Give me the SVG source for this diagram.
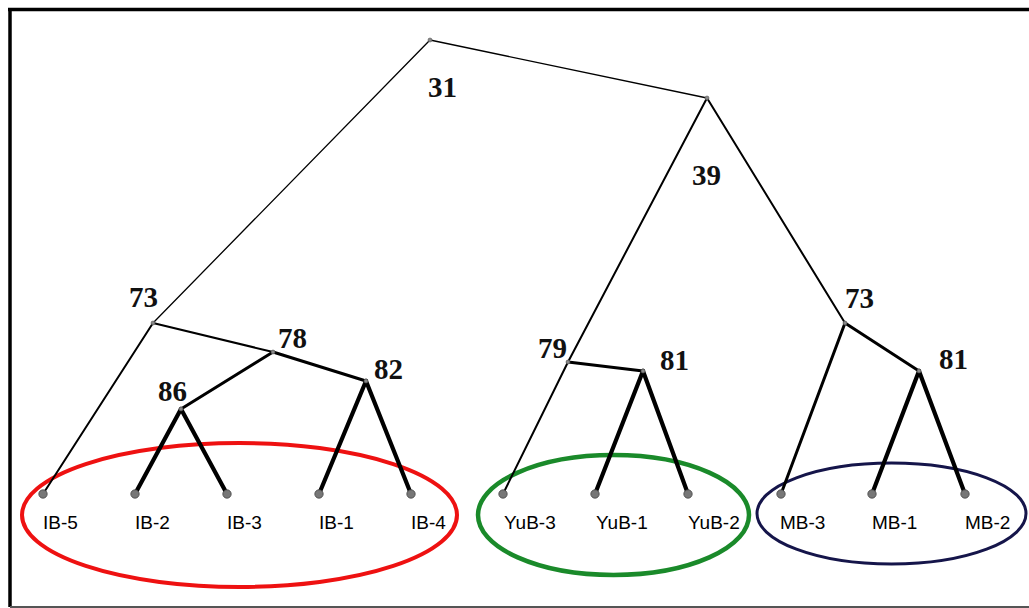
<svg xmlns="http://www.w3.org/2000/svg" width="1029" height="608" viewBox="0 0 1029 608">
  <style>
    .frame { fill: none; stroke: #000; stroke-width: 3.5; }
    .frame-base { stroke: #555; stroke-width: 2; }
    .edge { stroke: #000; stroke-linecap: round; fill: none; }
    .w1 { stroke-width: 1.3; }
    .w2 { stroke-width: 2; }
    .w3 { stroke-width: 3; }
    .w4 { stroke-width: 4.2; }
    .inner { fill: #888; stroke: #555; stroke-width: 0.6; }
    .leaf { fill: #777; stroke: #444; stroke-width: 0.8; }
    .support { font-family: "Liberation Serif", "Times New Roman", serif; font-weight: bold; font-size: 29px; fill: #111; }
    .taxon { font-family: "Liberation Sans", Arial, sans-serif; font-size: 19px; fill: #000; }
    .group { fill: none; }
  </style>

  <rect width="1029" height="608" fill="#fff"/>

  <!-- outer frame -->
  <g id="frame">
    <line class="frame" x1="8" y1="9.5" x2="1029" y2="9.5"/>
    <line class="frame" x1="10" y1="8" x2="10" y2="607"/>
    <line class="frame-base" x1="10" y1="607" x2="1029" y2="607"/>
  </g>

  <!-- clade groupings -->
  <g id="group-IB"><ellipse class="group" cx="239.5" cy="515" rx="217.5" ry="72" stroke="#ee1111" stroke-width="4"/></g>
  <g id="group-YuB"><ellipse class="group" cx="613.5" cy="515" rx="135.5" ry="60" stroke="#1a8a2a" stroke-width="4.5"/></g>
  <g id="group-MB"><ellipse class="group" cx="891.5" cy="513.5" rx="134.5" ry="50.5" stroke="#15154a" stroke-width="3"/></g>

  <!-- tree branches -->
  <g id="connectors">
    <line class="edge w1" x1="430" y1="40" x2="707" y2="98"/>
    <line class="edge w1" x1="430" y1="40" x2="153" y2="323"/>
    <line class="edge w2" x1="707" y1="98" x2="568" y2="362"/>
    <line class="edge w2" x1="707" y1="98" x2="845" y2="323"/>
    <line class="edge w2" x1="153" y1="323" x2="43" y2="494"/>
    <line class="edge w2" x1="153" y1="323" x2="273" y2="352"/>
    <line class="edge w3" x1="273" y1="352" x2="181" y2="409"/>
    <line class="edge w3" x1="273" y1="352" x2="366" y2="381"/>
    <line class="edge w4" x1="181" y1="409" x2="135" y2="494"/>
    <line class="edge w4" x1="181" y1="409" x2="227" y2="494"/>
    <line class="edge w4" x1="366" y1="381" x2="319" y2="494"/>
    <line class="edge w4" x1="366" y1="381" x2="411" y2="494"/>
    <line class="edge w2" x1="568" y1="362" x2="503" y2="494"/>
    <line class="edge w3" x1="568" y1="362" x2="643" y2="371"/>
    <line class="edge w4" x1="643" y1="371" x2="595" y2="494"/>
    <line class="edge w4" x1="643" y1="371" x2="688" y2="494"/>
    <line class="edge w3" x1="845" y1="323" x2="781" y2="494"/>
    <line class="edge w3" x1="845" y1="323" x2="919" y2="371"/>
    <line class="edge w4" x1="919" y1="371" x2="872" y2="494"/>
    <line class="edge w4" x1="919" y1="371" x2="965" y2="494"/>
  </g>

  <!-- internal nodes with support values -->
  <g id="node-root"><circle class="inner" cx="430" cy="40" r="2"/><text class="support" x="428" y="97">31</text></g>
  <g id="node-39"><circle class="inner" cx="707" cy="98" r="2"/><text class="support" x="692" y="185">39</text></g>
  <g id="node-73-IB"><circle class="inner" cx="153" cy="323" r="2"/><text class="support" x="129" y="307">73</text></g>
  <g id="node-78"><circle class="inner" cx="273" cy="352" r="2"/><text class="support" x="278" y="348">78</text></g>
  <g id="node-86"><circle class="inner" cx="181" cy="409" r="2"/><text class="support" x="158" y="401">86</text></g>
  <g id="node-82"><circle class="inner" cx="366" cy="381" r="2"/><text class="support" x="374" y="379">82</text></g>
  <g id="node-79"><circle class="inner" cx="568" cy="362" r="2"/><text class="support" x="538" y="358">79</text></g>
  <g id="node-81-YuB"><circle class="inner" cx="643" cy="371" r="2"/><text class="support" x="660" y="370">81</text></g>
  <g id="node-73-MB"><circle class="inner" cx="845" cy="323" r="2"/><text class="support" x="845" y="308">73</text></g>
  <g id="node-81-MB"><circle class="inner" cx="919" cy="371" r="2"/><text class="support" x="939" y="369">81</text></g>

  <!-- leaves -->
  <g id="leaf-IB-5"><circle class="leaf" cx="43" cy="494" r="4.2"/><text class="taxon" x="43" y="529">IB-5</text></g>
  <g id="leaf-IB-2"><circle class="leaf" cx="135" cy="494" r="4.2"/><text class="taxon" x="135" y="529">IB-2</text></g>
  <g id="leaf-IB-3"><circle class="leaf" cx="227" cy="494" r="4.2"/><text class="taxon" x="227" y="529">IB-3</text></g>
  <g id="leaf-IB-1"><circle class="leaf" cx="319" cy="494" r="4.2"/><text class="taxon" x="319" y="529">IB-1</text></g>
  <g id="leaf-IB-4"><circle class="leaf" cx="411" cy="494" r="4.2"/><text class="taxon" x="411" y="529">IB-4</text></g>
  <g id="leaf-YuB-3"><circle class="leaf" cx="503" cy="494" r="4.2"/><text class="taxon" x="504" y="529">YuB-3</text></g>
  <g id="leaf-YuB-1"><circle class="leaf" cx="595" cy="494" r="4.2"/><text class="taxon" x="596" y="529">YuB-1</text></g>
  <g id="leaf-YuB-2"><circle class="leaf" cx="688" cy="494" r="4.2"/><text class="taxon" x="688" y="529">YuB-2</text></g>
  <g id="leaf-MB-3"><circle class="leaf" cx="781" cy="494" r="4.2"/><text class="taxon" x="780" y="529">MB-3</text></g>
  <g id="leaf-MB-1"><circle class="leaf" cx="872" cy="494" r="4.2"/><text class="taxon" x="872" y="529">MB-1</text></g>
  <g id="leaf-MB-2"><circle class="leaf" cx="965" cy="494" r="4.2"/><text class="taxon" x="965" y="529">MB-2</text></g>
</svg>
